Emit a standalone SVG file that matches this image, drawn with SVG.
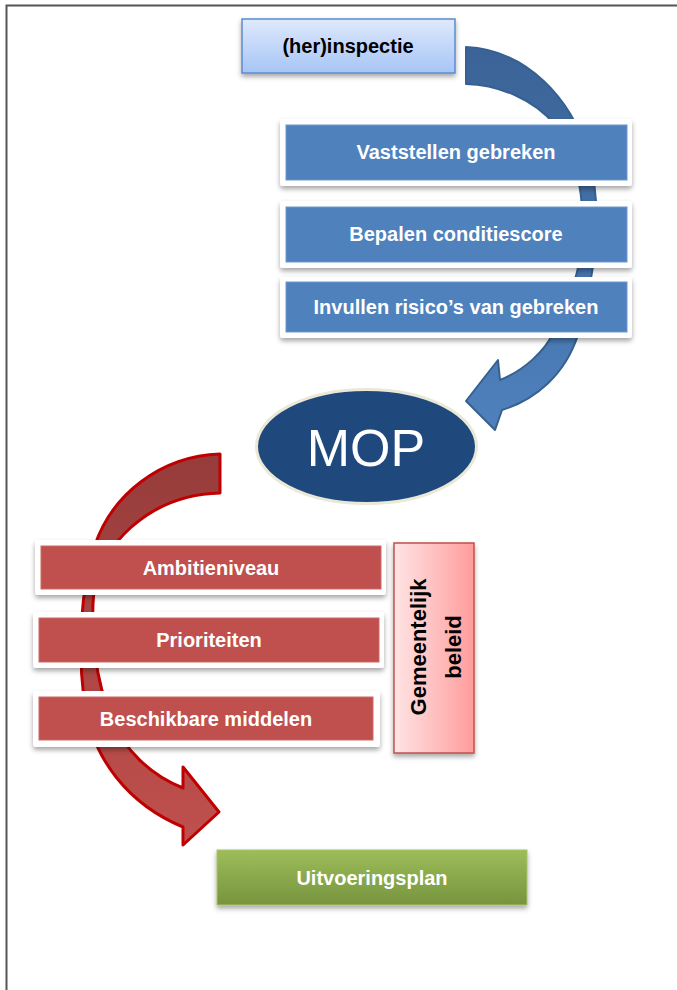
<svg xmlns="http://www.w3.org/2000/svg" width="677" height="990" viewBox="0 0 677 990">
<defs>
<filter id="sh" x="-10%" y="-20%" width="120%" height="150%">
<feDropShadow dx="0" dy="3" stdDeviation="2.5" flood-color="#000" flood-opacity="0.35"/>
</filter>
<linearGradient id="gInsp" x1="0" y1="0" x2="0" y2="1"><stop offset="0" stop-color="#dfe9fc"/><stop offset="1" stop-color="#a6c5f6"/></linearGradient>
<linearGradient id="gBlueArrow" x1="0" y1="0" x2="0" y2="1"><stop offset="0" stop-color="#3b6397"/><stop offset="0.5" stop-color="#4371a8"/><stop offset="1" stop-color="#4f81bd"/></linearGradient>
<linearGradient id="gRedArrow" x1="0" y1="0" x2="0" y2="1"><stop offset="0" stop-color="#963c3b"/><stop offset="1" stop-color="#c0504d"/></linearGradient>
<linearGradient id="gGreen" x1="0" y1="0" x2="0" y2="1"><stop offset="0" stop-color="#9dbd5a"/><stop offset="1" stop-color="#77943d"/></linearGradient>
<linearGradient id="gPink" x1="0" y1="0" x2="1" y2="0"><stop offset="0" stop-color="#ffe4e4"/><stop offset="1" stop-color="#ff9c9c"/></linearGradient>
<style>
.lbl{font-family:"Liberation Sans",Arial,sans-serif;font-weight:bold;font-size:20px;fill:#fff;text-anchor:middle}
.dark{fill:#000}
.frame{fill:#fff;filter:url(#sh)}
.bbox{fill:#4f81bd;stroke:#6f97cb;stroke-width:1}
.rbox{fill:#c0504d;stroke:#cc6a67;stroke-width:1}
</style>
</defs>
<rect x="0" y="0" width="677" height="990" fill="#fff"/>
<path d="M6.5,990 V5.5 H677" fill="none" stroke="#555" stroke-width="2"/>

<g id="connectors">
<path id="blue-arrow" d="M466,47 C528,50 572,100 588,155 S596,270 578,335 C565,375 535,400 502,410 L495,430 L466,401 L498,360 L500,380 C525,370 545,350 552,335 C570,300 584,260 583,225 C582,185 575,150 555,125 C535,100 500,85 466,84 Z" fill="url(#gBlueArrow)" stroke="#36608f" stroke-width="2" stroke-linejoin="round"/>
<path id="red-arrow" d="M220,454 C160,456 112,495 95,545 C80,590 78,650 84,700 C92,760 130,805 183,827 L183,845 L219,812 L183,767 L183,788 C150,775 125,750 112,720 C95,680 90,630 94,590 C100,550 145,495 220,493 Z" fill="url(#gRedArrow)" stroke="#c00000" stroke-width="3" stroke-linejoin="round"/>
</g>

<g id="herinspectie">
<rect x="242" y="19" width="213" height="54" fill="url(#gInsp)" stroke="#5b8bd0" stroke-width="1.5" filter="url(#sh)"/>
<text class="lbl dark" x="348" y="53">(her)inspectie</text>
</g>

<g id="vaststellen">
<rect class="frame" x="280" y="119" width="352" height="67" rx="3"/>
<rect class="bbox" x="286" y="125" width="341" height="55"/>
<text class="lbl" x="456" y="159">Vaststellen gebreken</text>
</g>
<g id="bepalen">
<rect class="frame" x="280" y="201" width="352" height="67" rx="3"/>
<rect class="bbox" x="286" y="207" width="341" height="55"/>
<text class="lbl" x="456" y="241">Bepalen conditiescore</text>
</g>
<g id="invullen">
<rect class="frame" x="280" y="277" width="352" height="61" rx="3"/>
<rect class="bbox" x="286" y="282" width="341" height="50"/>
<text class="lbl" x="456" y="314">Invullen risico’s van gebreken</text>
</g>

<g id="mop">
<ellipse cx="366.5" cy="446.5" rx="110" ry="57" fill="#1f497d" stroke="#ebe8d8" stroke-width="3"/>
<text x="366" y="466" font-family="'Liberation Sans',Arial,sans-serif" font-size="52" fill="#fff" text-anchor="middle">MOP</text>
</g>

<g id="ambitieniveau">
<rect class="frame" x="35" y="540" width="351" height="55" rx="3"/>
<rect class="rbox" x="41" y="546" width="340" height="43"/>
<text class="lbl" x="211" y="575">Ambitieniveau</text>
</g>
<g id="prioriteiten">
<rect class="frame" x="33" y="612" width="351" height="56" rx="3"/>
<rect class="rbox" x="39" y="618" width="340" height="44"/>
<text class="lbl" x="209" y="647">Prioriteiten</text>
</g>
<g id="beschikbare">
<rect class="frame" x="33" y="691" width="347" height="56" rx="3"/>
<rect class="rbox" x="39" y="697" width="334" height="43"/>
<text class="lbl" x="206" y="726">Beschikbare middelen</text>
</g>

<g id="beleid">
<rect x="394" y="543" width="80" height="210" fill="url(#gPink)" stroke="#c0504d" stroke-width="1.5" filter="url(#sh)"/>
<text class="lbl dark" font-size="22" transform="translate(426,647) rotate(-90)" style="font-size:22px">Gemeentelijk</text>
<text class="lbl dark" transform="translate(461,647) rotate(-90)" style="font-size:22px">beleid</text>
</g>

<g id="uitvoeringsplan">
<rect x="217" y="850" width="310" height="55" fill="url(#gGreen)" stroke="#a5c46a" stroke-width="1" filter="url(#sh)"/>
<text class="lbl" x="372" y="885">Uitvoeringsplan</text>
</g>
</svg>
